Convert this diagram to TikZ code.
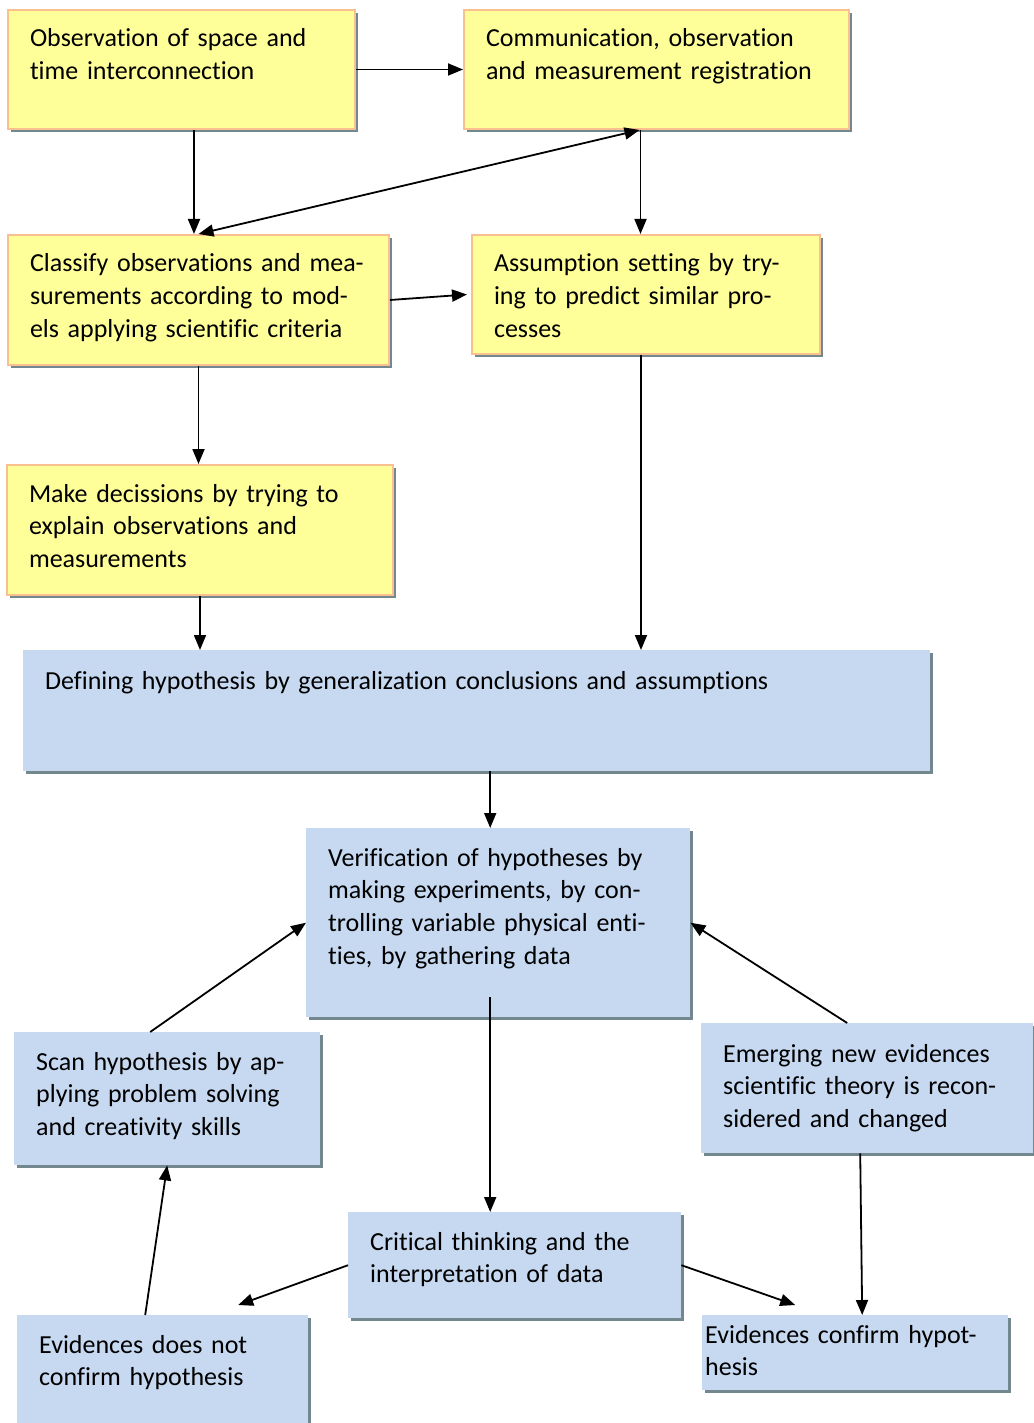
\documentclass[tikz,border=0pt]{standalone}
\usepackage{fontspec}
\setmainfont{Carlito}[Ligatures={NoCommon}]
\usepackage{tikz}
\usetikzlibrary{calc,arrows.meta,shadows}
\definecolor{boxyellow}{HTML}{FFFF99}
\definecolor{boxborder}{HTML}{FAC090}
\definecolor{boxblue}{HTML}{C6D9F1}
\definecolor{boxshadow}{HTML}{72888E}

\begin{document}
\begin{tikzpicture}[
  x=1pt, y=-1pt,
  every node/.style={font=\fontsize{26}{32.7}\selectfont},
  %arrows are all the same
  ]
  \tikzstyle{box}=[anchor=north west, align=left, inner xsep=22pt, inner ysep=10pt, text height=27pt,
    drop shadow={shadow xshift=3pt, shadow yshift=-3pt, fill=boxshadow, opacity=1}]
  \tikzstyle{yellow node}=[box, fill=boxyellow, draw=boxborder, line width=2pt]
  \tikzstyle{blue node}=[box, fill=boxblue]
  \tikzstyle{arrow}=[line width=1.8pt, -{Triangle[length=15pt,width=12pt]}]
  \useasboundingbox (0,0) rectangle (1033,1423);
  % yellow part
  \node(1)[yellow node, text width=303pt, text depth=72pt] at (7,9) {Observation of space and\\time interconnection};
  \node(2)[yellow node, text width=341pt, text depth=72pt] at (463,9) {Communication, observation\\and measurement registration};
  \node(3)[yellow node, text width=337pt, text depth=83pt] at (7,234) {Classify observations and mea-\\surements according to mod-\\els applying scientific criteria};
  \node(4)[yellow node, text width=304pt, text depth=72pt] at (471,234) {Assumption setting by try-\\ing to predict similar pro-\\cesses};
  \node(5)[yellow node, text width=342pt, text depth=83pt] at (6,464) {Make decissions by trying to\\explain observations and\\measurements};
  % blue part
  \node(6)[blue node, text width=863pt, text height=29pt, text depth=72pt] at (23,650) {Defining hypothesis by generalization conclusions and assumptions};
  \node(7)[blue node, text width=340pt, text height=28pt, text depth=141pt] at (306,828) {Verification of hypotheses by\\making experiments, by con-\\trolling variable physical enti-\\ties, by gathering data};
  \node(8)[blue node, text width=262pt, text height=28pt, text depth=85pt] at (14,1032) {Scan hypothesis by ap-\\plying problem solving\\and creativity skills};
  \node(9)[blue node, text width=288pt, text height=29pt, text depth=81pt] at (701,1023) {Emerging new evidences\\scientific theory is recon-\\sidered and changed};
  \node(10)[blue node, text width=289pt, text height=28pt, text depth=58pt] at (348,1212) {Critical thinking and the\\interpretation of data};
  \node(11)[blue node, text width=247pt, text height=28pt, text depth=60pt] at (17,1315) {Evidences does not\\confirm hypothesis};
  \node(12)[blue node, inner xsep=3pt, text width=300pt, text height=18pt, text depth=37pt] at (702,1315) {Evidences confirm hypot-\\hesis};
  % connectors
  \draw[arrow] (1.east) -- (2.west);
  \draw[arrow] ([xshift=12.5pt]1.south) -- ([xshift=12.5pt]1.south |- 3.north);
  \draw[arrow, {Triangle[length=15pt,width=12pt]}-{Triangle[length=15pt,width=12pt]}] ([xshift=-17pt]2.south) -- (3.north);
  \draw[arrow] ([xshift=-16pt]2.south) -- ([xshift=-16pt]2.south |- 4.north);
  \draw[arrow] (3.east) -- ([xshift=-4pt]4.west);
  \draw[arrow] (3.south) -- (3.south |- 5.north);
  \draw[arrow] ([xshift=-5pt]4.south) -- ([xshift=-5pt]4.south |- 6.north);
  \draw[arrow] (5.south) -- (5.south |- 6.north);
  \draw[arrow] ([xshift=13.5pt]6.south) -- ([xshift=13.5pt]6.south |- 7.north);
  \draw[arrow] ([xshift=-8pt,yshift=20pt]7.south) -- ([xshift=-8pt]7.south |- 10.north);
  \draw[arrow] ([xshift=-17pt]8.north) -- (7.west);
  \draw[arrow] ([xshift=-20pt]9.north) -- (7.east);
  \draw[arrow] (10.west) -- ([xshift=75.5pt,yshift=10pt]11.north);
  \draw[arrow] (10.east) -- ([xshift=-60pt,yshift=10pt]12.north);
  \draw[arrow] ([xshift=-7pt]9.south) -- ([xshift=7pt]12.north);
  \draw[arrow] ([xshift=-17.5pt]11.north) -- (8.south);
\end{tikzpicture}
\end{document}
